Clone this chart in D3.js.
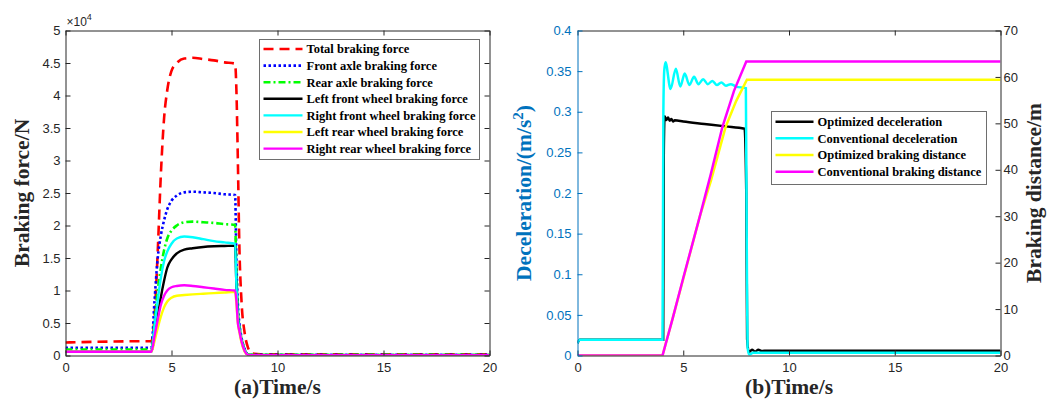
<!DOCTYPE html>
<html lang="en">
<head>
<meta charset="utf-8">
<title>Braking force and deceleration</title>
<script src="https://d3js.org/d3.v7.min.js"></script>
<style>
  body { margin: 0; background: #fff; }
  svg { display: block; }
  .tick text { font-family: "Liberation Sans", Arial, sans-serif; font-size: 13px; }
  .lab { font-family: "Liberation Serif", "Times New Roman", serif; font-weight: bold; font-size: 21.5px; }
  .leg { font-family: "Liberation Serif", "Times New Roman", serif; font-weight: bold; font-size: 12.5px; }
</style>
</head>
<body>
<svg id="chart" width="1048" height="403"></svg>
<script>
// ---- panel (a): braking forces (x10^4 N) ----
var timeA = [0, 3.95, 4.05, 4.2, 4.35, 4.5, 4.65, 4.8, 5.0, 5.25, 5.6, 6.0, 6.5, 7.0, 7.5, 8.0, 8.06, 8.13, 8.2, 8.3, 8.45, 8.6, 8.8, 9.2, 20]
var totalForce = [0.2, 0.22, 0.22, 0.6, 1.6, 2.8, 3.65, 4.08, 4.38, 4.5, 4.57, 4.58, 4.56, 4.54, 4.51, 4.49, 4.1, 3.0, 1.7, 0.85, 0.35, 0.13, 0.03, 0.02, 0.02]
var frontAxle = [0.12, 0.12, 0.12, 0.85, 1.5, 1.85, 2.08, 2.25, 2.38, 2.46, 2.51, 2.52, 2.51, 2.5, 2.48, 2.47, 1.5, 0.8, 0.5, 0.28, 0.1, 0.02, 0.01, 0.01, 0.01]
var rearAxle = [0.09, 0.09, 0.09, 0.5, 1.0, 1.35, 1.62, 1.8, 1.92, 2.0, 2.05, 2.06, 2.05, 2.04, 2.02, 2.01, 1.3, 0.7, 0.45, 0.26, 0.09, 0.02, 0.01, 0.01, 0.01]
var leftFront = [0.057, 0.057, 0.057, 0.3, 0.6, 0.9, 1.15, 1.35, 1.48, 1.57, 1.63, 1.65, 1.67, 1.68, 1.685, 1.69, 1.1, 0.6, 0.42, 0.24, 0.08, 0.015, 0.005, 0.005, 0.005]
var rightFront = [0.057, 0.057, 0.057, 0.45, 0.85, 1.2, 1.45, 1.6, 1.72, 1.8, 1.83, 1.82, 1.79, 1.76, 1.74, 1.72, 1.1, 0.6, 0.42, 0.24, 0.08, 0.015, 0.005, 0.005, 0.005]
var leftRear = [0.057, 0.057, 0.057, 0.22, 0.42, 0.6, 0.74, 0.83, 0.89, 0.92, 0.93, 0.94, 0.95, 0.96, 0.97, 0.98, 0.8, 0.5, 0.36, 0.2, 0.06, 0.01, 0.005, 0.005, 0.005]
var rightRear = [0.057, 0.057, 0.057, 0.3, 0.55, 0.78, 0.92, 1.0, 1.05, 1.07, 1.08, 1.07, 1.05, 1.03, 1.01, 1.0, 0.85, 0.5, 0.38, 0.22, 0.07, 0.01, 0.005, 0.005, 0.005]
var forceNames = ["Total braking force", "Front axle braking force", "Rear axle braking force",
  "Left front wheel braking force", "Right front wheel braking force",
  "Left rear wheel braking force", "Right rear wheel braking force"]

// ---- panel (b): deceleration (left axis) and braking distance (right axis) ----
var timeOD = [0, 0.1, 4.05, 4.08, 4.12, 4.2, 4.28, 4.36, 4.44, 4.52, 4.6, 5.0, 6.0, 7.0, 7.9, 7.98, 8.02, 8.1, 8.25, 8.4, 8.55, 8.7, 9.0, 20]
var optDecel = [0.015, 0.0195, 0.0195, 0.25, 0.2945, 0.290, 0.293, 0.289, 0.291, 0.288, 0.2895, 0.288, 0.285, 0.282, 0.279, 0.2, 0.02, 0.004, 0.007, 0.005, 0.007, 0.0055, 0.006, 0.0058]
var timeCD = [0, 0.1, 4.02, 4.06, 4.1, 4.16, 4.4, 4.65, 4.86, 5.07, 5.29, 5.51, 5.72, 5.94, 6.16, 6.38, 6.59, 6.80, 7.02, 7.24, 7.5, 7.96, 8.0, 8.04, 8.12, 8.3, 20]
var convDecel = [0.015, 0.0195, 0.0195, 0.3, 0.35, 0.361, 0.328, 0.353, 0.331, 0.347, 0.333, 0.343, 0.334, 0.340, 0.334, 0.338, 0.333, 0.336, 0.332, 0.334, 0.331, 0.329, 0.15, 0.01, 0.001, 0.0035, 0.0035]
var timeOB = [0, 4.02, 4.5, 5.0, 5.78, 6.3, 7.0, 7.5, 8.01, 20]
var optDist = [0, 0, 8, 16.5, 29.9, 37.5, 49.2, 54.8, 59.4, 59.4]
var timeCB = [0, 4.02, 4.5, 5.0, 5.78, 6.3, 6.85, 7.4, 7.98, 20]
var convDist = [0, 0, 8, 16.7, 29.9, 39, 49.2, 57, 63.3, 63.3]
var bNames = ["Optimized deceleration", "Conventional deceleration", "Optimized braking distance", "Conventional braking distance"]

// ticks
var timeTicks = [0, 5, 10, 15, 20]
var forceTicks = [0, 0.5, 1, 1.5, 2, 2.5, 3, 3.5, 4, 4.5, 5]
var decelTicks = [0, 0.05, 0.1, 0.15, 0.2, 0.25, 0.3, 0.35, 0.4]
var distTicks = [0, 10, 20, 30, 40, 50, 60, 70]

var axisCol = "#262626", blueCol = "#0072bd"
var fmt = d3.format("~g")
var svg = d3.select("#chart")

var pa = {left: 65.5, right: 489.5, top: 30.5, bottom: 355.5}
var pb = {left: 577.5, right: 1000.5, top: 30.5, bottom: 355.5}

var xA = d3.scaleLinear().domain([0, 20]).range([pa.left, pa.right])
var yA = d3.scaleLinear().domain([0, 5]).range([pa.bottom, pa.top])
var xB = d3.scaleLinear().domain([0, 20]).range([pb.left, pb.right])
var yDec = d3.scaleLinear().domain([0, 0.4]).range([pb.bottom, pb.top])
var yDist = d3.scaleLinear().domain([0, 70]).range([pb.bottom, pb.top])

function styleAxis(g, col) {
  g.attr("font-size", null).attr("font-family", null)
  g.select(".domain").attr("stroke", col)
  g.selectAll(".tick line").attr("stroke", col)
  g.selectAll(".tick text").attr("fill", col)
}

function clip(id, p) {
  svg.append("clipPath").attr("id", id).append("rect")
    .attr("x", p.left).attr("y", p.top - 3)
    .attr("width", p.right - p.left).attr("height", p.bottom - p.top + 3)
}
clip("clipA", pa)
clip("clipB", pb)

// ---------- panel (a) ----------
var forceSeries = [
  {v: totalForce, color: "#ff0000", dash: "10,6", w: 2.6},
  {v: frontAxle, color: "#0000ff", dash: "2.5,2.5", w: 2.6},
  {v: rearAxle, color: "#00ff00", dash: "7,3,2,3", w: 2.6},
  {v: leftFront, color: "#000000", dash: null, w: 2.4},
  {v: rightFront, color: "#00ffff", dash: null, w: 2.4},
  {v: leftRear, color: "#ffff00", dash: null, w: 2.4},
  {v: rightRear, color: "#ff00ff", dash: null, w: 2.4}
]
forceSeries.forEach(function(s, i) { s.name = forceNames[i] })

var lineA = d3.line().x(function(d) { return xA(d[0]) }).y(function(d) { return yA(d[1]) })
  .curve(d3.curveMonotoneX)

var gA = svg.append("g")
gA.append("g").attr("clip-path", "url(#clipA)").selectAll("path")
  .data(forceSeries).enter().append("path")
  .attr("fill", "none")
  .attr("stroke", function(d) { return d.color })
  .attr("stroke-width", function(d) { return d.w })
  .attr("stroke-dasharray", function(d) { return d.dash })
  .attr("d", function(d) { return lineA(timeA.map(function(t, k) { return [t, d.v[k]] })) })

gA.append("g").attr("transform", "translate(0," + pa.bottom + ")")
  .call(d3.axisBottom(xA).tickValues(timeTicks).tickSize(-5).tickSizeOuter(0).tickPadding(7))
  .call(styleAxis, axisCol)
gA.append("g").attr("transform", "translate(0," + pa.top + ")")
  .call(d3.axisTop(xA).tickValues(timeTicks).tickSize(-5).tickSizeOuter(0).tickFormat(""))
  .call(styleAxis, axisCol)
gA.append("g").attr("transform", "translate(" + pa.left + ",0)")
  .call(d3.axisLeft(yA).tickValues(forceTicks).tickSize(-5).tickSizeOuter(0).tickPadding(5).tickFormat(fmt))
  .call(styleAxis, axisCol)
gA.append("g").attr("transform", "translate(" + pa.right + ",0)")
  .call(d3.axisRight(yA).tickValues(forceTicks).tickSize(-5).tickSizeOuter(0).tickFormat(""))
  .call(styleAxis, axisCol)

var expo = gA.append("text").attr("x", pa.left + 1).attr("y", 26)
  .attr("fill", axisCol).style("font-family", "Liberation Sans, Arial, sans-serif").style("font-size", "12px")
expo.append("tspan").text("\u00d710")
expo.append("tspan").attr("dy", -6).style("font-size", "9px").text("4")

gA.append("text").attr("class", "lab").attr("fill", axisCol)
  .attr("transform", "translate(29," + (pa.top + pa.bottom) / 2 + ") rotate(-90)")
  .attr("text-anchor", "middle").text("Braking force/N")
gA.append("text").attr("class", "lab").attr("fill", axisCol)
  .attr("x", (pa.left + pa.right) / 2).attr("y", 394).attr("text-anchor", "middle").text("(a)Time/s")

// legend (a)
var legA = gA.append("g").attr("transform", "translate(259.5,39.5)")
legA.append("rect").attr("width", 220).attr("height", 120).attr("fill", "#fff").attr("stroke", "#6e6e6e")
var rowA = legA.selectAll("g.row").data(forceSeries).enter().append("g")
  .attr("transform", function(d, i) { return "translate(0," + (9.5 + i * 16.6) + ")" })
rowA.append("line").attr("x1", 4).attr("x2", 43)
  .attr("stroke", function(d) { return d.color })
  .attr("stroke-width", function(d) { return d.w })
  .attr("stroke-dasharray", function(d) { return d.dash })
rowA.append("text").attr("class", "leg").attr("x", 47).attr("dy", "0.35em").attr("fill", "#000")
  .text(function(d) { return d.name })

// ---------- panel (b) ----------
var bSeries = [
  {t: timeOD, v: optDecel, y: yDec, color: "#000000", curve: d3.curveMonotoneX},
  {t: timeCD, v: convDecel, y: yDec, color: "#00ffff", curve: d3.curveMonotoneX},
  {t: timeOB, v: optDist, y: yDist, color: "#ffff00", curve: d3.curveLinear},
  {t: timeCB, v: convDist, y: yDist, color: "#ff00ff", curve: d3.curveLinear}
]
bSeries.forEach(function(s, i) { s.name = bNames[i] })

var gB = svg.append("g")
gB.append("g").attr("clip-path", "url(#clipB)").selectAll("path")
  .data(bSeries).enter().append("path")
  .attr("fill", "none")
  .attr("stroke", function(d) { return d.color })
  .attr("stroke-width", 2.5)
  .attr("d", function(d) {
    var line = d3.line().x(function(p) { return xB(p[0]) }).y(function(p) { return d.y(p[1]) }).curve(d.curve)
    return line(d.t.map(function(t, k) { return [t, d.v[k]] }))
  })

gB.append("g").attr("transform", "translate(0," + pb.bottom + ")")
  .call(d3.axisBottom(xB).tickValues(timeTicks).tickSize(-5).tickSizeOuter(0).tickPadding(7))
  .call(styleAxis, axisCol)
gB.append("g").attr("transform", "translate(0," + pb.top + ")")
  .call(d3.axisTop(xB).tickValues(timeTicks).tickSize(-5).tickSizeOuter(0).tickFormat(""))
  .call(styleAxis, axisCol)
gB.append("g").attr("transform", "translate(" + pb.left + ",0)")
  .call(d3.axisLeft(yDec).tickValues(decelTicks).tickSize(-5).tickSizeOuter(0).tickPadding(6).tickFormat(fmt))
  .call(styleAxis, blueCol)
gB.append("g").attr("transform", "translate(" + pb.right + ",0)")
  .call(d3.axisRight(yDist).tickValues(distTicks).tickSize(-5).tickSizeOuter(0).tickPadding(3).tickFormat(fmt))
  .call(styleAxis, axisCol)

var decLab = gB.append("text").attr("class", "lab").attr("fill", blueCol)
  .attr("transform", "translate(531," + (pb.top + pb.bottom) / 2 + ") rotate(-90)")
  .attr("text-anchor", "middle")
decLab.append("tspan").text("Deceleration/(m/s")
decLab.append("tspan").attr("dy", -8).style("font-size", "15px").text("2")
decLab.append("tspan").attr("dy", 8).text(")")

gB.append("text").attr("class", "lab").attr("fill", axisCol)
  .attr("transform", "translate(1041," + (pb.top + pb.bottom) / 2 + ") rotate(-90)")
  .attr("text-anchor", "middle").text("Braking distance/m")
gB.append("text").attr("class", "lab").attr("fill", axisCol)
  .attr("x", (pb.left + pb.right) / 2).attr("y", 394).attr("text-anchor", "middle").text("(b)Time/s")

// legend (b)
var legB = gB.append("g").attr("transform", "translate(771.5,111.5)")
legB.append("rect").attr("width", 215).attr("height", 73).attr("fill", "#fff").attr("stroke", "#6e6e6e")
var rowB = legB.selectAll("g.row").data(bSeries).enter().append("g")
  .attr("transform", function(d, i) { return "translate(0," + (10.2 + i * 16.67) + ")" })
rowB.append("line").attr("x1", 4).attr("x2", 42)
  .attr("stroke", function(d) { return d.color }).attr("stroke-width", 2.5)
rowB.append("text").attr("class", "leg").attr("x", 46).attr("dy", "0.35em").attr("fill", "#000")
  .text(function(d) { return d.name })
</script>
</body>
</html>
